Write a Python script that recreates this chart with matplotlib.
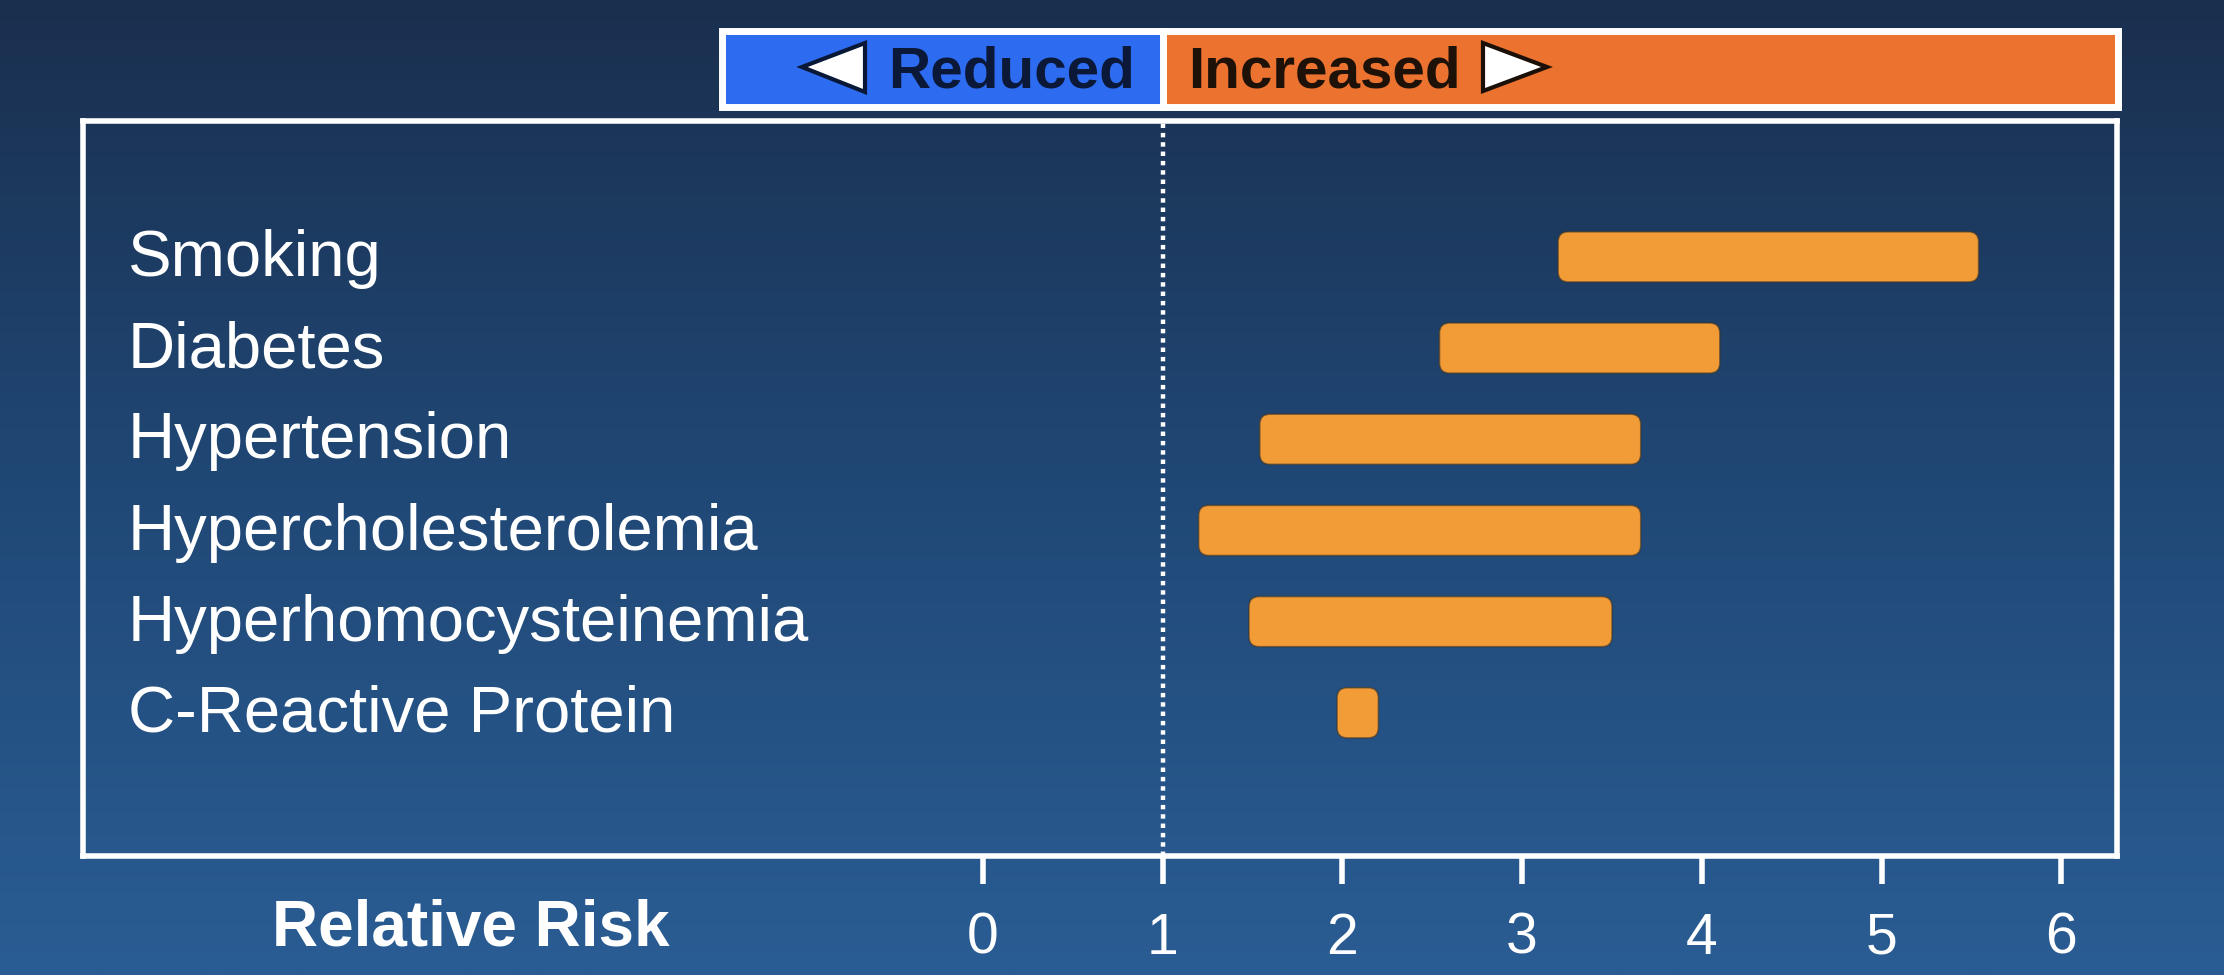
import numpy as np
import matplotlib
matplotlib.use("Agg")
import matplotlib.pyplot as plt
from matplotlib.patches import FancyBboxPatch, Rectangle, Polygon
from matplotlib import transforms

plt.rcParams['font.family'] = ['Liberation Sans', 'DejaVu Sans']

# Risk factors and their relative-risk ranges (low, high)
factors = ["Smoking", "Diabetes", "Hypertension", "Hypercholesterolemia",
           "Hyperhomocysteinemia", "C-Reactive Protein"]
rr_low = [3.20, 2.54, 1.54, 1.20, 1.48, 1.97]
rr_high = [5.54, 4.10, 3.66, 3.66, 3.50, 2.20]
x_ticks = [0, 1, 2, 3, 4, 5, 6]
axis_title = "Relative Risk"
legend_left = "Reduced"
legend_right = "Increased"

W, H = 2224, 975
fig = plt.figure(figsize=(W / 100, H / 100), dpi=100)

# Vertical navy-to-blue gradient background
bg = fig.add_axes([0, 0, 1, 1], zorder=-10)
top = np.array([26, 47, 78]) / 255
mid = np.array([32, 72, 118]) / 255
bot = np.array([42, 93, 148]) / 255
t = np.linspace(0, 1, 400)[:, None]
grad = np.where(t < 0.5, top + (mid - top) * (t / 0.5), mid + (bot - mid) * ((t - 0.5) / 0.5))
bg.imshow(grad[:, None, :], aspect='auto', extent=[0, 1, 0, 1], origin='upper')
bg.set_axis_off()

# Main plotting box
L, R, T, B = 83, 2117, 121, 856
ax = fig.add_axes([L / W, 1 - B / H, (R - L) / W, (B - T) / H])
ax.patch.set_alpha(0)
ax.set_xlim(-5.008, 6.31)
ax.set_ylim(6.57, -1.49)
for s in ax.spines.values():
    s.set_color('white')
    s.set_linewidth(4)
ax.set_yticks([])
ax.set_xticks(x_ticks)
ax.set_xticklabels([str(v) for v in x_ticks])
ax.tick_params(axis='x', direction='out', length=20, width=4, color='white',
               labelcolor='white', labelsize=41, pad=20)

# Reference line at relative risk = 1
ax.axvline(1, color='white', lw=3.2, linestyle=(0, (1, 1.1)), zorder=2)

# Range bars with rounded corners
bar_h = 0.55
rx = 0.056
aspect = 1.97
for i, (lo, hi) in enumerate(zip(rr_low, rr_high)):
    ax.add_patch(FancyBboxPatch((lo, i - bar_h / 2), hi - lo, bar_h,
                                boxstyle=f"round,pad=0,rounding_size={rx}",
                                mutation_aspect=aspect,
                                facecolor='#f29c38', edgecolor=(0.25, 0.2, 0.12, 0.55),
                                lw=1.2, zorder=3))

# Category labels
lab_tr = transforms.blended_transform_factory(fig.transFigure, ax.transData)
for i, name in enumerate(factors):
    ax.text(128 / W, i + 0.21, name, transform=lab_tr, ha='left', va='baseline',
            fontsize=47, color='white')

fig.text(471 / W, 1 - 945 / H, axis_title, ha='center', va='baseline',
         fontsize=46, fontweight='bold', color='white')

# Direction key above the plot
pix = transforms.Affine2D().scale(1, -1).translate(0, H)
key_tr = transforms.blended_transform_factory(ax.transData, pix)
inv = ax.transData.inverted()


def px_to_x(px):
    return inv.transform((px, 0))[0]


fig.canvas.draw()
kx0, kx1 = px_to_x(721.5), px_to_x(2117.5)
ky0, ky1 = 30.5, 106.5
fig.add_artist(Rectangle((kx0, ky0), 1 - kx0, ky1 - ky0, transform=key_tr,
                         facecolor='#2d6cf0', edgecolor='none', zorder=5))
fig.add_artist(Rectangle((1, ky0), kx1 - 1, ky1 - ky0, transform=key_tr,
                         facecolor='#ec7230', edgecolor='none', zorder=5))
fig.add_artist(Rectangle((kx0, ky0), kx1 - kx0, ky1 - ky0, transform=key_tr,
                         facecolor='none', edgecolor='white', lw=5, zorder=6))
fig.add_artist(plt.Line2D([1, 1], [ky0, ky1], transform=key_tr, color='white',
                          lw=5, zorder=6))

fig.text(1012 / W, 1 - 87 / H, legend_left, ha='center', va='baseline',
         fontsize=42, fontweight='bold', color='#0b1838', zorder=7)
fig.text(1324 / W, 1 - 87 / H, legend_right, ha='center', va='baseline',
         fontsize=42, fontweight='bold', color='#1e1208', zorder=7)

fig.add_artist(Polygon([(802, 67), (865, 43), (865, 92)], closed=True, transform=pix,
                       facecolor='white', edgecolor='#0a1838', lw=3, zorder=7))
fig.add_artist(Polygon([(1547, 67), (1483, 43), (1483, 91)], closed=True, transform=pix,
                       facecolor='white', edgecolor='#1a1008', lw=3, zorder=7))

fig.savefig("out.png", dpi=100)
